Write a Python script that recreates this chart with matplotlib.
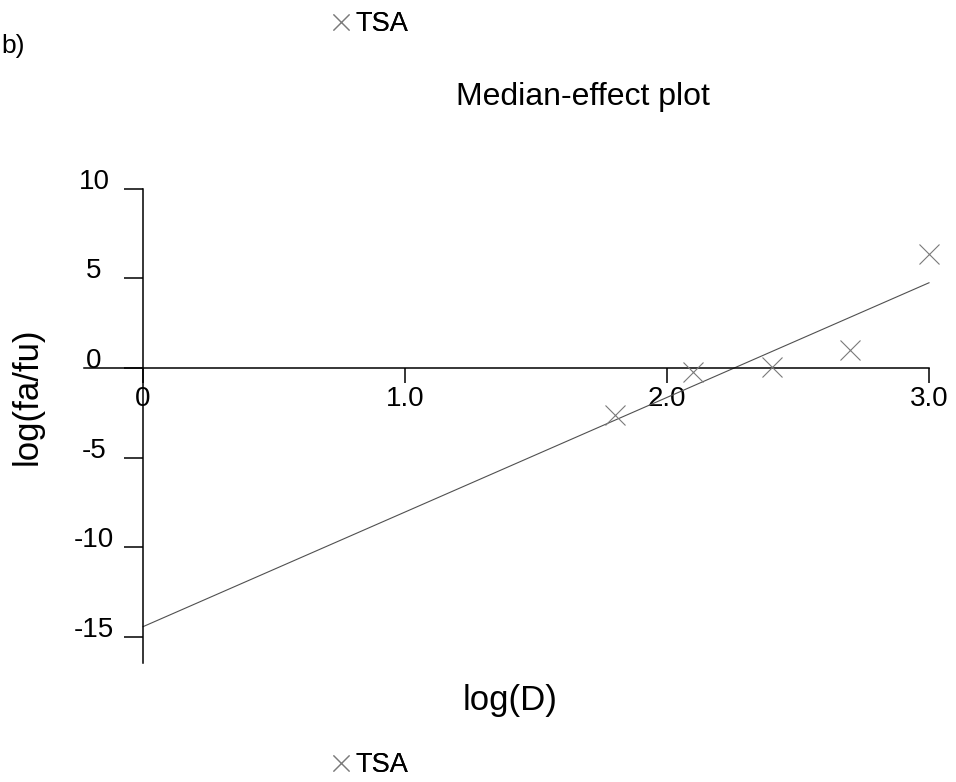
import matplotlib
matplotlib.use('Agg')
import matplotlib.pyplot as plt
from matplotlib.lines import Line2D
import numpy as np

# log(D) and log(fa/fu) for TSA
log_d = [1.8, 2.1, 2.4, 2.7, 3.0]
log_fa_fu = [-2.62, -0.22, 0.06, 1.0, 6.36]

x_ticks = [0, 1, 2, 3]
x_tick_labels = ['0', '1.0', '2.0', '3.0']
y_ticks = [10, 5, 0, -5, -10, -15]
y_tick_labels = ['10', '5', '0', '-5', '-10', '-15']

series_name = 'TSA'
panel_label = 'b)'


def main():
    plt.rcParams['font.family'] = ['Liberation Sans', 'DejaVu Sans']
    W, H = 956, 782
    fig = plt.figure(figsize=(W / 100, H / 100), dpi=100)

    # axes box chosen so that the data axes land where the reference has them
    ax = fig.add_axes([77.5 / W, 1 - 672.8 / H, 864.6 / W, 493.1 / H])
    ax.set_xlim(-0.25, 3.05)
    ax.set_ylim(-17, 10.5)

    for side in ['top', 'right']:
        ax.spines[side].set_visible(False)
    ax.spines['left'].set_position(('data', 0))
    ax.spines['bottom'].set_position(('data', 0))
    ax.spines['left'].set_bounds(-16.45, 10)
    ax.spines['bottom'].set_bounds(-0.225, 3.0)
    for side in ['left', 'bottom']:
        ax.spines[side].set_linewidth(1.1)
        ax.spines[side].set_color('black')

    # median-effect regression line over 0..3
    slope, intercept = np.polyfit(log_d, log_fa_fu, 1)
    fit_x = np.array([0.0, 3.0])
    ax.plot(fit_x, slope * fit_x + intercept, color='#505050', lw=0.8, zorder=2)

    ax.plot(log_d, log_fa_fu, ls='none', marker='x', ms=14.4, mew=0.8,
            color='#7a7a7a', zorder=3)

    ax.set_xticks(x_ticks)
    ax.set_xticklabels(x_tick_labels)
    ax.set_yticks(y_ticks)
    ax.set_yticklabels(y_tick_labels)
    ax.tick_params(axis='x', direction='out', length=10.8, width=1.1,
                   pad=2.5, labelsize=20)
    ax.tick_params(axis='y', direction='out', length=13.7, width=1.1,
                   pad=21.6, labelsize=20)
    for lbl in ax.get_yticklabels():
        lbl.set_horizontalalignment('center')
        lbl.set_verticalalignment('baseline')

    ax.set_xlabel('log(D)', fontsize=25, va='center')
    ax.xaxis.set_label_coords(0.5, -0.0552)
    ax.set_ylabel('log(fa/fu)', fontsize=25, va='center', ha='center')
    ax.yaxis.set_label_coords(-0.0584, 0.5613)

    fig.text(583 / W, 1 - 97 / H, 'Median-effect plot', fontsize=23,
             ha='center', va='center')
    fig.text(1 / W, 1 - 46 / H, panel_label, fontsize=19,
             ha='left', va='center')

    handle = Line2D([], [], ls='none', marker='x', ms=12, mew=0.8,
                    color='#7a7a7a')
    for yc in [24, 765]:
        leg = fig.legend([handle], [series_name], loc='center left',
                         bbox_to_anchor=(332 / W, 1 - yc / H), frameon=False,
                         fontsize=19.5, handlelength=0.7, handletextpad=0.15,
                         borderpad=0, borderaxespad=0)
        fig.add_artist(leg)

    fig.savefig('out.png', dpi=100)
    plt.close(fig)


if __name__ == "__main__":
    main()
